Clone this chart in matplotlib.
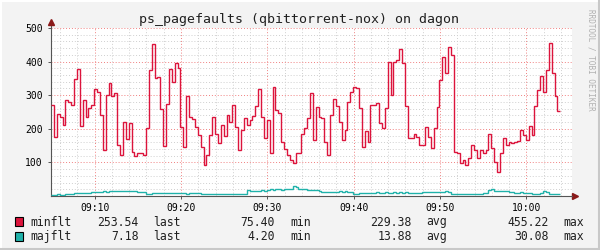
import numpy as np
import matplotlib
matplotlib.use('Agg')
import matplotlib.pyplot as plt
from matplotlib.ticker import FixedLocator
from matplotlib.lines import Line2D
from matplotlib.patches import Rectangle

# time axis in minutes after 09:00, one sample every 20 s
t_start = 4.94
t_step = 1.0 / 3

minflt = [272, 176, 244, 235, 210, 286, 280, 270, 348, 378,
          207, 286, 236, 262, 272, 317, 310, 241, 137, 300,
          336, 297, 307, 152, 122, 221, 170, 216, 132, 118,
          127, 127, 122, 201, 375, 452, 350, 355, 260, 149,
          275, 377, 340, 395, 380, 206, 147, 297, 236, 230,
          206, 181, 147, 92, 122, 181, 236, 186, 157, 211,
          180, 241, 221, 271, 206, 137, 196, 231, 210, 226,
          238, 268, 317, 236, 172, 226, 127, 325, 256, 246,
          162, 141, 122, 107, 97, 127, 127, 186, 201, 231,
          306, 167, 264, 236, 231, 162, 122, 241, 290, 268,
          221, 167, 196, 281, 310, 325, 320, 262, 147, 192,
          162, 271, 271, 276, 216, 201, 262, 400, 300, 400,
          405, 437, 395, 268, 172, 172, 186, 177, 152, 152,
          206, 177, 142, 201, 266, 345, 415, 365, 444, 420,
          132, 128, 98, 107, 92, 112, 152, 137, 112, 137,
          127, 137, 186, 142, 102, 72, 127, 172, 152, 162,
          157, 162, 165, 196, 181, 167, 208, 181, 268, 315,
          357, 310, 375, 454, 365, 298, 254]

majflt = [4, 4, 5, 4, 4, 5, 5, 6, 9, 9,
          8, 9, 10, 10, 12, 12, 13, 12, 14, 13,
          15, 16, 15, 14, 15, 16, 15, 14, 15, 14,
          12, 12, 11, 6, 6, 9, 9, 10, 9, 8,
          9, 9, 8, 8, 9, 8, 8, 7, 8, 8,
          9, 8, 6, 5, 5, 6, 5, 5, 4.5, 5,
          4.5, 5, 4.5, 4.5, 5, 4.5, 4.5, 5, 18, 16,
          15, 16, 15, 17, 16, 18, 20, 19, 21, 20,
          19, 22, 21, 20, 30, 27, 21, 22, 20, 19,
          18, 17, 17, 16, 12, 13, 12, 11, 12, 12,
          14, 13, 14, 13, 12, 5, 6, 9, 9, 10,
          9, 8, 10, 11, 10, 10, 11, 10, 10, 11,
          10, 11, 10, 11, 10, 10, 8, 8, 9, 12,
          12, 13, 12, 12, 12, 13, 12, 14, 13, 5,
          5, 4.5, 5, 4.5, 5, 5, 4.5, 5, 5, 6,
          9, 9, 18, 20, 15, 14, 14, 15, 14, 13,
          11, 10, 10, 11, 10, 10, 9, 7, 6, 7,
          8, 14, 12, 6, 5, 6, 7]

xticks = [10, 20, 30, 40, 50, 60]
xticklabels = ['09:10', '09:20', '09:30', '09:40', '09:50', '10:00']
yticks = [100, 200, 300, 400, 500]

names = ['minflt', 'majflt']
colors = ['#DC143C', '#20B2AA']
stat_names = ['last', 'min', 'avg', 'max']
minflt_stats = [253.54, 75.40, 229.38, 455.22]
majflt_stats = [7.18, 4.20, 13.88, 30.08]

W, H = 600, 250
mono = 'DejaVu Sans Mono'
plt.rcParams['font.family'] = mono

fig = plt.figure(figsize=(W / 100, H / 100), dpi=100, facecolor='#F3F3F3')
ax = fig.add_axes([51 / W, 1 - 196 / H, (572 - 51) / W, (196 - 28) / H])
ax.set_facecolor('white')
ax.set_xlim(4.94, 65.29)
ax.set_ylim(0, 500)

# grid, rrdtool style
ax.xaxis.set_major_locator(FixedLocator(xticks))
ax.xaxis.set_minor_locator(FixedLocator([m for m in range(6, 66, 2) if m % 10]))
ax.yaxis.set_major_locator(FixedLocator(yticks))
ax.yaxis.set_minor_locator(FixedLocator([v for v in range(20, 500, 20) if v % 100]))
ax.grid(which='minor', color='#CFCFCF', ls=(0, (1, 2)), lw=0.7)
ax.grid(which='major', color='#F08080', ls=(0, (1, 2)), lw=0.7)
ax.set_axisbelow(True)
ax.set_xticklabels(xticklabels)
ax.tick_params(which='major', length=2, width=0.7, color='#555555', labelsize=7, pad=3)
ax.tick_params(which='minor', length=0)
ax.tick_params(axis='y', pad=4)
for s in ['top', 'right']:
    ax.spines[s].set_visible(False)
for s in ['left', 'bottom']:
    ax.spines[s].set_color('#555555')
    ax.spines[s].set_linewidth(0.8)

edges = t_start + t_step * np.arange(len(minflt) + 1)
ax.stairs(minflt, edges, baseline=None, color=colors[0], lw=1.0, zorder=3)
ax.stairs(majflt, edges, baseline=None, color=colors[1], lw=1.0, zorder=3)

# axis arrows
ax.add_line(Line2D([0, 0], [1, 1.03], transform=ax.transAxes, color='#555555', lw=0.8, clip_on=False))
ax.plot([0], [1.035], marker='^', ms=4, color='#8B1A1A', transform=ax.transAxes, clip_on=False)
ax.plot([1.006], [0], marker='>', ms=4, color='#8B1A1A', transform=ax.transAxes, clip_on=False)

fig.text(299 / W, 1 - 19 / H, 'ps_pagefaults (qbittorrent-nox) on dagon',
         ha='center', va='center', fontsize=9.5, color='#202020')
fig.text(591 / W, 1 - 60 / H, 'RRDTOOL / TOBI OETIKER', rotation=270,
         ha='center', va='center', fontsize=5.5, color='#B0B0B0')

# legend rows
num_right = [138.5, 275, 411.7, 548.3]
lab_left = [153, 290, 426.7, 563]
for row, (name, col, stats) in enumerate(zip(names, colors, [minflt_stats, majflt_stats])):
    base = 225.5 + row * 14.5
    fig.add_artist(Rectangle((15 / W, 1 - (base + 0.5) / H), 8 / W, 9 / H,
                             facecolor=col, edgecolor='black', lw=0.8,
                             transform=fig.transFigure))
    fig.text(30 / W, 1 - base / H, name, va='baseline', fontsize=8.3, color='#202020')
    for xr, xl, v, sn in zip(num_right, lab_left, stats, stat_names):
        fig.text(xr / W, 1 - base / H, '%.2f' % v, ha='right', va='baseline',
                 fontsize=8.3, color='#202020')
        fig.text(xl / W, 1 - base / H, sn, ha='left', va='baseline',
                 fontsize=8.3, color='#202020')

# 3d frame around the image
fig.add_artist(Line2D([0, 1], [1 - 1 / H, 1 - 1 / H], transform=fig.transFigure, color='white', lw=1.5))
fig.add_artist(Line2D([1 / W, 1 / W], [0, 1], transform=fig.transFigure, color='white', lw=1.5))
fig.add_artist(Line2D([0, 1], [1.5 / H, 1.5 / H], transform=fig.transFigure, color='#C8C8C8', lw=2.2))
fig.add_artist(Line2D([1 - 1.5 / W, 1 - 1.5 / W], [0, 1], transform=fig.transFigure, color='#C8C8C8', lw=2.2))

fig.savefig('out.png', dpi=100, facecolor=fig.get_facecolor())
